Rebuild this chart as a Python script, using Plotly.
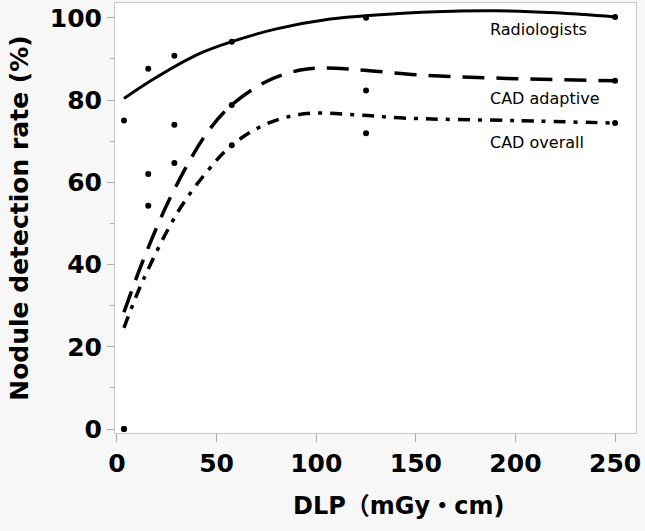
import plotly.graph_objects as go

# ---- data ----
dlp = [3.5, 15.7, 28.8, 57.6, 125, 250]
rad_pts = [75, 87.6, 90.8, 94.2, 100, 100.2]
adp_pts = [0, 62, 74, 78.8, 82.3, 84.7]
ovr_pts = [0, 54.3, 64.7, 69, 71.9, 74.4]

rad_fit_x = [3.5, 20, 40, 57.6, 80, 107, 130, 160, 190, 220, 250]
rad_fit_y = [80.4, 85.6, 91.0, 94.2, 97.3, 99.7, 100.7, 101.5, 101.7, 101.2, 100.2]

adp_fit_x = [3.5, 13.2, 27.4, 44.7, 57.6, 75, 92, 104, 120, 155, 200, 250]
adp_fit_y = [28.4, 41.1, 56.9, 71.7, 78.8, 84.5, 87.3, 87.8, 87.4, 86.0, 85.2, 84.7]

ovr_fit_x = [3.5, 13.2, 30.7, 45, 57.6, 75, 95, 120, 145, 200, 250]
ovr_fit_y = [24.6, 36.3, 52.9, 62.5, 69.0, 74.2, 76.7, 76.4, 75.6, 75.0, 74.4]

series_labels = ["Radiologists", "CAD adaptive", "CAD overall"]
label_x = [186, 186, 186]
label_y = [97.1, 80.3, 69.6]

x_ticks = [0, 50, 100, 150, 200, 250]
y_ticks = [0, 20, 40, 60, 80, 100]

fig = go.Figure()

line_styles = [
    (rad_fit_x, rad_fit_y, "solid", 3),
    (adp_fit_x, adp_fit_y, "22px,12px", 3.5),
    (ovr_fit_x, ovr_fit_y, "12px,8px,4px,8px", 3.5),
]
for xs, ys, dash, w in line_styles:
    fig.add_trace(go.Scatter(x=xs, y=ys, mode="lines",
                             line=dict(color="black", width=w, dash=dash, shape="spline", smoothing=1.0),
                             hoverinfo="skip", showlegend=False))

for ys in (rad_pts, adp_pts, ovr_pts):
    fig.add_trace(go.Scatter(x=dlp, y=ys, mode="markers",
                             marker=dict(color="black", size=6),
                             showlegend=False))

for t, lx, ly in zip(series_labels, label_x, label_y):
    fig.add_annotation(x=lx, y=ly, text=t, showarrow=False, xanchor="left", yanchor="middle",
                       font=dict(family="DejaVu Sans", size=16, color="black"))

font_bold = dict(family="DejaVu Sans, Noto Sans CJK JP", size=25, color="black", weight="bold")

# x-axis title placed as annotation (reference title is offset to the right of plot centre)
fig.add_annotation(x=(398 - 115) / (636 - 115), xref="paper", y=-0.17, yref="paper",
                   text="DLP（mGy・cm)", showarrow=False, xanchor="center", yanchor="middle",
                   font=dict(family="DejaVu Sans, Noto Sans CJK JP", size=24, color="black", weight="bold"))

fig.update_layout(
    width=645, height=531,
    margin=dict(l=115, r=9, t=3, b=98),
    paper_bgcolor="#f7f7f7", plot_bgcolor="white",
    xaxis=dict(range=[-1.0, 260.5], tickvals=x_ticks, ticks="outside", ticklen=8,
               tickcolor="#aaaaaa", showline=True, mirror=True, linecolor="#c6c6c6",
               showgrid=False, zeroline=False, tickfont=font_bold),
    yaxis=dict(range=[-0.97, 103.6], tickvals=y_ticks, ticks="outside", ticklen=7,
               tickcolor="#aaaaaa", showline=True, mirror=True, linecolor="#c6c6c6",
               showgrid=False, zeroline=False, tickfont=font_bold,
               minor=dict(ticks="outside", ticklen=4, dtick=10, tick0=0, tickcolor="#aaaaaa"),
               title=dict(text="Nodule detection rate (%)",
                          font=dict(family="DejaVu Sans", size=25, color="black", weight="bold"),
                          standoff=14)),
)

fig.write_html("out.html")
